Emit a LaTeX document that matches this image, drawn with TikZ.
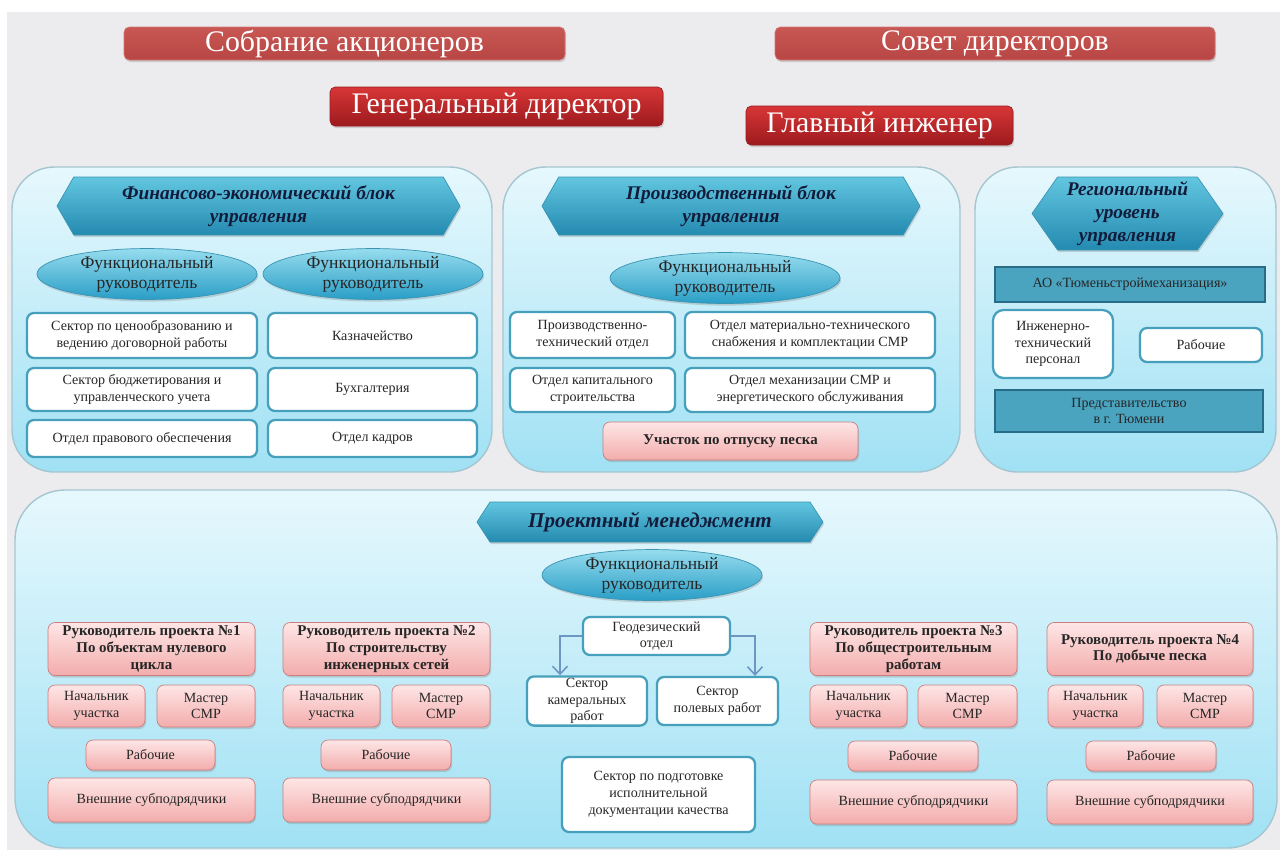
\documentclass[tikz,border=0pt]{standalone}
\usepackage{fontspec}
\setmainfont{Liberation Serif}
\usepackage{tikz}
\usetikzlibrary{shapes.geometric,shapes.symbols,shadows,arrows.meta}
\definecolor{paper}{RGB}{236,236,239}
\definecolor{redtop}{RGB}{200,86,82}
\definecolor{redbot}{RGB}{184,70,68}
\definecolor{dredtop}{RGB}{216,54,54}
\definecolor{dredbot}{RGB}{156,26,30}
\definecolor{blocktop}{RGB}{230,248,253}
\definecolor{blockbot}{RGB}{160,225,244}
\definecolor{blockline}{RGB}{165,198,208}
\definecolor{hdrtop}{RGB}{98,198,224}
\definecolor{hdrbot}{RGB}{36,138,176}
\definecolor{hdrline}{RGB}{58,148,178}
\definecolor{hdrtext}{RGB}{18,28,58}
\definecolor{elltop}{RGB}{150,220,238}
\definecolor{ellbot}{RGB}{42,158,198}
\definecolor{wline}{RGB}{70,160,188}
\definecolor{ptop}{RGB}{254,230,230}
\definecolor{pbot}{RGB}{243,172,172}
\definecolor{pline}{RGB}{205,125,125}
\definecolor{dfill}{RGB}{74,164,192}
\definecolor{dline}{RGB}{40,108,135}
\definecolor{geoarrow}{RGB}{110,150,195}

\begin{document}
\begin{tikzpicture}[x=0.02cm, y=-0.02cm,
    sz/.style 2 args={minimum width=#1*0.02cm, minimum height=#2*0.02cm},
    shade/.style={drop shadow={shadow xshift=0.6pt, shadow yshift=-1.2pt, opacity=0.3}},
    redbox/.style={shade, draw=redtop!80!white, top color=redtop, bottom color=redbot, rounded corners=3pt, text=white, font=\fontsize{17}{19}\selectfont, inner sep=0pt},
    dredbox/.style={redbox, draw=dredbot, top color=dredtop, bottom color=dredbot},
    blockbg/.style={draw=blockline, line width=0.8pt, top color=blocktop, bottom color=blockbot, rounded corners=0.85cm},
    hdr/.style={shade, signal, signal to=west and east, signal pointer angle=120, draw=hdrline, top color=hdrtop, bottom color=hdrbot, text=hdrtext, font=\fontsize{11}{13}\selectfont\bfseries\itshape, align=center, inner sep=1pt},
    func/.style={shade, ellipse, draw=hdrline, top color=elltop, bottom color=ellbot, text=black!85, font=\fontsize{10}{11.5}\selectfont, align=center, inner sep=0pt},
    wbox/.style={draw=wline, line width=1.3pt, fill=white, rounded corners=4pt, text=black!85, font=\fontsize{8}{9.5}\selectfont, align=center, inner sep=1pt},
    pbox/.style={shade, draw=pline, top color=ptop, bottom color=pbot, rounded corners=4pt, text=black!85, font=\fontsize{8}{9.5}\selectfont, align=center, inner sep=1pt},
    pmbox/.style={pbox, font=\fontsize{8.5}{9.5}\selectfont\bfseries},
    dbox/.style={draw=dline, line width=1pt, fill=dfill, text=black!85, font=\fontsize{8}{9.5}\selectfont, align=center, inner sep=1pt},
    geoarr/.style={draw=geoarrow, line width=0.9pt, -{Straight Barb[length=1.6mm, width=3mm]}}]
  \useasboundingbox (0,0) rectangle (1280,850);
  \fill[white] (0,0) rectangle (1280,850);
  \fill[paper] (7,12) rectangle (1280,850);

  \node[redbox, sz={441}{33}] (sobr) at (344.5,43.5) {Собрание акционеров};
  \node[redbox, sz={440}{33}] (sovet) at (995,43.5) {Совет директоров};
  \node[dredbox, sz={333}{39}] (gendir) at (496.5,106.5) {Генеральный директор};
  \node[dredbox, sz={267}{39}] (glinzh) at (879.5,125.5) {Главный инженер};

  \draw[blockbg] (12,167) rectangle (492,472);
  \draw[blockbg] (503,167) rectangle (960,472);
  \draw[blockbg] (975,167) rectangle (1276,472);
  \draw[blockbg, rounded corners=1cm] (15,490) rectangle (1277,848);

  \node[hdr, sz={403}{58}] (finhdr) at (258.5,206) {Финансово-экономический блок\\управления};
  \node[func, sz={220}{48}] (finfunc1) at (147,274) {Функциональный\\руководитель};
  \node[func, sz={220}{48}] (finfunc2) at (373,274) {Функциональный\\руководитель};
  \node[wbox, sz={230}{45}] (fin1) at (142,335.5) {Сектор по ценообразованию и\\ведению договорной работы};
  \node[wbox, sz={230}{43}] (fin2) at (142,389.5) {Сектор бюджетирования и\\управленческого учета};
  \node[wbox, sz={230}{37}] (fin3) at (142,438.5) {Отдел правового обеспечения};
  \node[wbox, sz={209}{45}] (fin4) at (372.5,335.5) {Казначейство};
  \node[wbox, sz={209}{43}] (fin5) at (372.5,389.5) {Бухгалтерия};
  \node[wbox, sz={209}{37}] (fin6) at (372.5,438.5) {Отдел кадров};

  \node[hdr, sz={378}{58}] (prodhdr) at (731,206) {Производственный блок\\управления};
  \node[func, sz={230}{47}] (prodfunc) at (725,278) {Функциональный\\руководитель};
  \node[wbox, sz={165}{46}] (prod1) at (592.5,335) {Производственно-\\технический отдел};
  \node[wbox, sz={250}{46}] (prod2) at (810,335) {Отдел материально-технического\\снабжения и комплектации СМР};
  \node[wbox, sz={165}{44}] (prod3) at (592.5,390) {Отдел капитального\\строительства};
  \node[wbox, sz={250}{44}] (prod4) at (810,390) {Отдел механизации СМР и\\энергетического обслуживания};
  \node[pbox, sz={255}{38}, font=\fontsize{8.5}{9.5}\selectfont\bfseries] (pesok) at (730.5,441) {Участок по отпуску песка};

  \node[hdr, sz={191}{73}, signal pointer angle=110] (reghdr) at (1127.5,213.5) {Региональный\\уровень\\управления};
  \node[dbox, sz={270}{35}] (ao) at (1130,284.5) {АО «Тюменьстроймеханизация»};
  \node[wbox, sz={120}{68}, rounded corners=6pt] (itp) at (1053,344) {Инженерно-\\технический\\персонал};
  \node[wbox, sz={122}{34}] (regrab) at (1201,345) {Рабочие};
  \node[dbox, sz={268}{42}] (predst) at (1129,411) {Представительство\\в г. Тюмени};

  \node[hdr, sz={346}{40}, signal pointer angle=114, font=\fontsize{12}{14}\selectfont\bfseries\itshape] (pmhdr) at (650,522) {Проектный менеджмент};
  \node[func, sz={220}{46}] (pmfunc) at (652,575) {Функциональный\\руководитель};
  \node[wbox, sz={147}{38}] (geo) at (656.5,636) {Геодезический\\отдел};
  \node[wbox, sz={120}{48}] (kamer) at (587,701) {Сектор\\камеральных\\работ};
  \node[wbox, sz={121}{48}] (polev) at (717.5,701) {Сектор\\полевых работ};
  \node[wbox, sz={193}{75}] (ispdoc) at (658.5,794.5) {Сектор по подготовке\\исполнительной\\документации качества};
  \draw[geoarr] (geo.west) -| ([xshift=-0.54cm]kamer.north);
  \draw[geoarr] (geo.east) -| ([xshift=0.75cm]polev.north);

  \node[pmbox, sz={207}{53}] (pm1) at (151.5,649) {Руководитель проекта №1\\По объектам нулевого\\цикла};
  \node[pbox, sz={97}{42}] (nach1) at (96.5,706) {Начальник\\участка};
  \node[pbox, sz={98}{42}] (mast1) at (206,706) {Мастер\\СМР};
  \node[pbox, sz={129}{30}] (rab1) at (150.5,755) {Рабочие};
  \node[pbox, sz={207}{44}] (sub1) at (151.5,800) {Внешние субподрядчики};

  \node[pmbox, sz={207}{53}] (pm2) at (386.5,649) {Руководитель проекта №2\\По строительству\\инженерных сетей};
  \node[pbox, sz={97}{42}] (nach2) at (331.5,706) {Начальник\\участка};
  \node[pbox, sz={98}{42}] (mast2) at (441,706) {Мастер\\СМР};
  \node[pbox, sz={130}{30}] (rab2) at (386,755) {Рабочие};
  \node[pbox, sz={207}{44}] (sub2) at (386.5,800) {Внешние субподрядчики};

  \node[pmbox, sz={207}{53}] (pm3) at (913.5,649) {Руководитель проекта №3\\По общестроительным\\работам};
  \node[pbox, sz={97}{42}] (nach3) at (858.5,706) {Начальник\\участка};
  \node[pbox, sz={99}{42}] (mast3) at (967.5,706) {Мастер\\СМР};
  \node[pbox, sz={130}{30}] (rab3) at (913,756) {Рабочие};
  \node[pbox, sz={207}{44}] (sub3) at (913.5,802) {Внешние субподрядчики};

  \node[pmbox, sz={206}{53}] (pm4) at (1150,649) {Руководитель проекта №4\\По добыче песка};
  \node[pbox, sz={95}{42}] (nach4) at (1095.5,706) {Начальник\\участка};
  \node[pbox, sz={96}{42}] (mast4) at (1205,706) {Мастер\\СМР};
  \node[pbox, sz={130}{30}] (rab4) at (1151,756) {Рабочие};
  \node[pbox, sz={206}{44}] (sub4) at (1150,802) {Внешние субподрядчики};
\end{tikzpicture}
\end{document}
